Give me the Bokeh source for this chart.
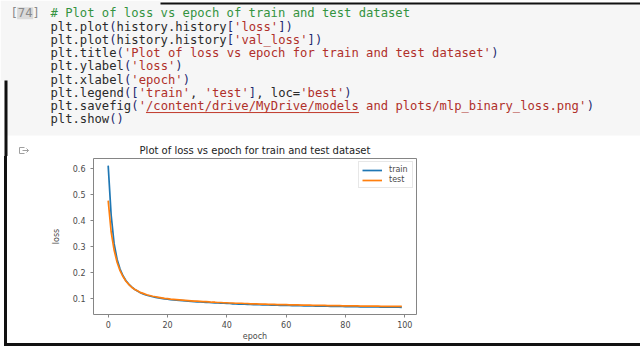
from bokeh.plotting import figure
from bokeh.models import Range1d, FixedTicker, ColumnDataSource, Legend, LegendItem, Spacer
from bokeh.layouts import column, row
from bokeh.core.properties import value
from bokeh.embed import file_html
from bokeh.resources import INLINE

# ---------------- data ----------------
epochs = list(range(100))
train_loss = [0.611, 0.420, 0.310, 0.250, 0.212, 0.186, 0.167, 0.153, 0.142, 0.133,
              0.126, 0.120, 0.115, 0.111, 0.108, 0.105, 0.103, 0.101, 0.099, 0.097,
              0.096, 0.094, 0.093, 0.092, 0.091, 0.090, 0.089, 0.088, 0.087, 0.086,
              0.085, 0.085, 0.084, 0.083, 0.083, 0.082, 0.081, 0.081, 0.080, 0.080,
              0.079, 0.079, 0.078, 0.078, 0.077, 0.077, 0.077, 0.076, 0.076, 0.075,
              0.075, 0.075, 0.074, 0.074, 0.074, 0.073, 0.073, 0.073, 0.072, 0.072,
              0.072, 0.072, 0.071, 0.071, 0.071, 0.071, 0.070, 0.070, 0.070, 0.070,
              0.069, 0.069, 0.069, 0.069, 0.069, 0.068, 0.068, 0.068, 0.068, 0.068,
              0.067, 0.067, 0.067, 0.067, 0.067, 0.066, 0.066, 0.066, 0.066, 0.066,
              0.066, 0.066, 0.065, 0.065, 0.065, 0.065, 0.065, 0.065, 0.065, 0.064]
test_loss = [0.476, 0.355, 0.285, 0.238, 0.206, 0.183, 0.165, 0.152, 0.141, 0.133,
             0.127, 0.121, 0.117, 0.113, 0.110, 0.107, 0.105, 0.103, 0.101, 0.099,
             0.098, 0.096, 0.095, 0.094, 0.093, 0.092, 0.091, 0.090, 0.089, 0.088,
             0.088, 0.087, 0.086, 0.086, 0.085, 0.084, 0.084, 0.083, 0.083, 0.082,
             0.082, 0.081, 0.081, 0.080, 0.080, 0.080, 0.079, 0.079, 0.078, 0.078,
             0.078, 0.077, 0.077, 0.077, 0.076, 0.076, 0.076, 0.075, 0.075, 0.075,
             0.075, 0.074, 0.074, 0.074, 0.074, 0.073, 0.073, 0.073, 0.073, 0.072,
             0.072, 0.072, 0.072, 0.072, 0.071, 0.071, 0.071, 0.071, 0.071, 0.070,
             0.070, 0.070, 0.070, 0.070, 0.070, 0.069, 0.069, 0.069, 0.069, 0.069,
             0.069, 0.069, 0.068, 0.068, 0.068, 0.068, 0.068, 0.068, 0.068, 0.068]
x_ticks = [0, 20, 40, 60, 80, 100]
y_ticks = [0.1, 0.2, 0.3, 0.4, 0.5, 0.6]
y_tick_labels = ["0.1", "0.2", "0.3", "0.4", "0.5", "0.6"]
series_names = ["train", "test"]
chart_title = "Plot of loss vs epoch for train and test dataset"
x_label = "epoch"
y_label = "loss"
cell_number = "[74]"
code_lines = [
    "# Plot of loss vs epoch of train and test dataset",
    "plt.plot(history.history['loss'])",
    "plt.plot(history.history['val_loss'])",
    "plt.title('Plot of loss vs epoch for train and test dataset')",
    "plt.ylabel('loss')",
    "plt.xlabel('epoch')",
    "plt.legend(['train', 'test'], loc='best')",
    "plt.savefig('/content/drive/MyDrive/models and plots/mlp_binary_loss.png')",
    "plt.show()",
]

# ---------------- styles ----------------
GREEN = "#34933f"
RED = "#b0302a"
DARK = "#2a2a2a"
BRACKET = "#1f2a70"
BLACK = "#111111"
MONO = "DejaVu Sans Mono"
MONO_SIZE = 12.2
CHAR_W = MONO_SIZE * 0.602
TOTAL_W = 640
TOP_H = 156
ROW_H = 187
BOT_H = 3
EDGE_W = 4      # white strip left of the black frame line
LINE_W = 3      # black frame line
CHART_W = TOTAL_W - EDGE_W - LINE_W
FRAME_LEFT = 93
FRAME_W = 323


def aux_fig(w, h, bg="white"):
    f = figure(width=w, height=h, x_range=Range1d(0, w), y_range=Range1d(h, 0),
               output_backend="svg", toolbar_location=None,
               x_axis_type=None, y_axis_type=None,
               min_border=0, min_border_left=0, min_border_right=0,
               min_border_top=0, min_border_bottom=0)
    f.grid.visible = False
    f.outline_line_color = None
    f.background_fill_color = bg
    f.border_fill_color = bg
    return f


def tokenize(line):
    if line.startswith("#"):
        return [(0, line, GREEN)]
    segs = []
    i = 0
    while i < len(line):
        c = line[i]
        if c == "'":
            j = line.index("'", i + 1)
            segs.append((i, line[i:j + 1], RED))
            i = j + 1
        elif c in "()[]":
            segs.append((i, c, BRACKET))
            i += 1
        else:
            j = i
            while j < len(line) and line[j] not in "'()[]":
                j += 1
            segs.append((i, line[i:j], DARK))
            i = j
    return segs


# ---------------- top: code cell + chart title ----------------
top = aux_fig(TOTAL_W, TOP_H)
top.quad(left=[0], right=[TOTAL_W], top=[0], bottom=[135], fill_color="#f6f6f6", line_color=None)
top.quad(left=[0], right=[EDGE_W], top=[80], bottom=[TOP_H], fill_color="white", line_color=None)
# frame lines
top.quad(left=[160], right=[TOTAL_W], top=[0], bottom=[2], fill_color="white", line_color=None)
top.quad(left=[160], right=[TOTAL_W], top=[2], bottom=[4], fill_color=BLACK, line_color=None)
top.quad(left=[EDGE_W], right=[EDGE_W + LINE_W], top=[80], bottom=[TOP_H], fill_color=BLACK, line_color=None)

x0 = 50
line_y0 = 12.8
line_dy = 13.25
xs, ys, txt, cols = [], [], [], []
for k, line in enumerate(code_lines):
    for col, s, c in tokenize(line):
        xs.append(x0 + col * CHAR_W)
        ys.append(line_y0 + k * line_dy)
        txt.append(s)
        cols.append(c)
src = ColumnDataSource(dict(x=xs, y=ys, text=txt, color=cols))
top.text(x="x", y="y", text="text", text_color="color", source=src,
         text_font=value(MONO), text_font_size=f"{MONO_SIZE}px",
         text_align="left", text_baseline="middle")

# underline of link in savefig path
k_save = 7
start_col = code_lines[k_save].index("/content")
end_col = code_lines[k_save].index(" and plots")
uy = line_y0 + k_save * line_dy + 6.5
top.segment(x0=[x0 + start_col * CHAR_W], x1=[x0 + end_col * CHAR_W],
            y0=[uy], y1=[uy], line_color="#c0392b", line_width=1)

# execution count
cx0 = 10
top.quad(left=[cx0 + CHAR_W * 0.9], right=[cx0 + CHAR_W * 3.1],
         top=[line_y0 - 6], bottom=[line_y0 + 6], fill_color="#dadada", line_color=None)
top.text(x=[cx0], y=[line_y0], text=[cell_number], text_color="#8a8a8a",
         text_font=value(MONO), text_font_size=f"{MONO_SIZE}px",
         text_align="left", text_baseline="middle")

# output icon
top.multi_line(xs=[[24, 19, 19, 24], [22, 28], [26, 28, 26]],
               ys=[[147, 147, 153, 153], [150, 150], [148, 150, 152]],
               line_color="#a0a0a0", line_width=1)

# chart title
top.text(x=[FRAME_LEFT + FRAME_W / 2], y=[150], text=[chart_title], text_color="#222222",
         text_font=value("DejaVu Sans"), text_font_size="10px",
         text_align="center", text_baseline="middle")

# ---------------- chart ----------------
all_vals = train_loss + test_loss
ymin, ymax = min(all_vals), max(all_vals)
ypad = (ymax - ymin) * 0.05
xpad = (epochs[-1] - epochs[0]) * 0.05

border_left = FRAME_LEFT - EDGE_W - LINE_W
p = figure(width=CHART_W, height=ROW_H,
           x_range=Range1d(epochs[0] - xpad, epochs[-1] + xpad),
           y_range=Range1d(ymin - ypad, ymax + ypad),
           output_backend="svg", toolbar_location=None,
           min_border_left=border_left, min_border_right=CHART_W - border_left - FRAME_W,
           min_border_top=2, min_border_bottom=28)
p.grid.visible = False
p.outline_line_color = "#858585"
p.outline_line_width = 1
p.background_fill_color = "white"
p.border_fill_color = "white"

r1 = p.line(epochs, train_loss, line_color="#1f77b4", line_width=1.7)
r2 = p.line(epochs, test_loss, line_color="#ff7f0e", line_width=1.7)

p.xaxis.ticker = FixedTicker(ticks=x_ticks)
p.yaxis.ticker = FixedTicker(ticks=y_ticks)
p.yaxis.major_label_overrides = {t: l for t, l in zip(y_ticks, y_tick_labels)}
p.xaxis.axis_label = x_label
p.yaxis.axis_label = y_label
for ax in (p.xaxis[0], p.yaxis[0]):
    ax.axis_line_color = None
    ax.major_tick_line_color = "#858585"
    ax.major_tick_out = 3
    ax.major_tick_in = 0
    ax.minor_tick_line_color = None
    ax.major_label_text_font = "DejaVu Sans"
    ax.major_label_text_font_size = "8px"
    ax.major_label_text_color = "#4a4a4a"
    ax.axis_label_text_font = "DejaVu Sans"
    ax.axis_label_text_font_size = "8px"
    ax.axis_label_text_font_style = "normal"
    ax.axis_label_text_color = "#4a4a4a"
p.yaxis.major_label_standoff = 5
p.yaxis.axis_label_standoff = 9
p.xaxis.major_label_standoff = 3
p.xaxis.axis_label_standoff = 1

legend = Legend(items=[LegendItem(label=series_names[0], renderers=[r1]),
                       LegendItem(label=series_names[1], renderers=[r2])],
                location="top_right", margin=3, padding=3, spacing=1,
                label_height=8, glyph_height=8, glyph_width=20, label_standoff=7,
                label_text_font="DejaVu Sans", label_text_font_size="8px",
                label_text_color="#4a4a4a",
                border_line_color="#d0d0d0", border_line_width=1,
                background_fill_color="white", background_fill_alpha=1)
p.add_layout(legend)

mid = row(Spacer(width=EDGE_W, height=ROW_H),
          Spacer(width=LINE_W, height=ROW_H, styles={"background-color": BLACK}),
          p, spacing=0)
bottom = row(Spacer(width=EDGE_W, height=BOT_H),
             Spacer(width=TOTAL_W - EDGE_W, height=BOT_H, styles={"background-color": BLACK}),
             spacing=0)

layout = column(top, mid, bottom, spacing=0)

open("out.html", "w").write(file_html(layout, INLINE))
